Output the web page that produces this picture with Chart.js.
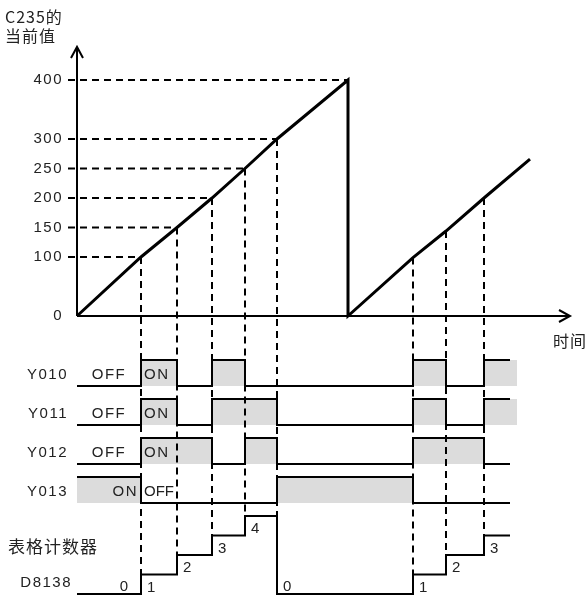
<!DOCTYPE html>
<html>
<head>
<meta charset="utf-8">
<script src="https://cdn.jsdelivr.net/npm/chart.js@4.4.1/dist/chart.umd.min.js"></script>
<style>
html, body { margin: 0; padding: 0; background: #fff; }
#wrap { width: 588px; height: 596px; position: relative; }
</style>
</head>
<body>
<div id="wrap"><canvas id="grafico"></canvas></div>
<script>
// valor atual do C235 nos pontos de comparação
const ticksY = [0, 100, 150, 200, 250, 300, 400];
const valoresCiclo1 = [100, 150, 200, 250, 300];
const temposCiclo1  = [64, 100, 135, 168, 200];
// segundo ciclo: valores (a rampa é desenhada reta)
const valoresCiclo2 = [99, 144, 200];
const temposCiclo2  = [336, 369, 407];
const tempoPico = 271, valorPico = 400;
const tempoFim = 453, valorFim = 266;

// saídas: instante da mudança e novo estado
const nomesSinais = ['Y010', 'Y011', 'Y012', 'Y013'];
const tempos010 = [0, 64, 100, 135, 168, 336, 369, 407, 433];
const estados010 = [0, 1, 0, 1, 0, 1, 0, 1, 1];
const tempos011 = [0, 64, 100, 135, 200, 336, 369, 407, 433];
const estados011 = [0, 1, 0, 1, 0, 1, 0, 1, 1];
const tempos012 = [0, 64, 135, 168, 200, 336, 407, 433];
const estados012 = [0, 1, 0, 1, 0, 1, 0, 0];
const tempos013 = [0, 64, 200, 336, 433];
const estados013 = [1, 0, 1, 0, 0];

// D8138 (contador da tabela)
const temposD8138 = [0, 64, 100, 135, 168, 200, 336, 369, 407, 433];
const contagemD8138 = [0, 1, 2, 3, 4, 0, 1, 2, 3, 3];

// layout (pixels)
const AREA = { left: 60, right: 570, top: 40, bottom: 594 };
const Y0PX = 316, PX_POR_UNID = 0.59;   // eixo do contador
const PX_FAIXA = 26;                    // altura de um pulso
const baseFaixa = [8, 6.5, 5, 3.5];     // linha base de cada saída
const passoD8138 = 0.75;
const fimSombra = 440;

const preto = '#000';
const cinza = '#dcdcdc';

// linha do contador
const pontosContador = [{ x: 0, y: 0 }];
temposCiclo1.forEach((t, i) => pontosContador.push({ x: t, y: valoresCiclo1[i] }));
pontosContador.push({ x: tempoPico, y: valorPico }, { x: tempoPico, y: 0 });
temposCiclo2.forEach((t, i) => pontosContador.push({ x: t, y: valoresCiclo2[i] }));
pontosContador.push({ x: tempoFim, y: valorFim });

const datasets = [];
datasets.push({
    data: pontosContador, yAxisID: 'y', borderColor: preto, borderWidth: 3,
    pointRadius: 0, tension: 0, clip: false, order: 1
});

// guias horizontais tracejadas
const guias = temposCiclo1.map((t, i) => ({ t: t, v: valoresCiclo1[i] }));
guias.push({ t: tempoPico, v: valorPico });
guias.forEach(g => {
    datasets.push({
        data: [{ x: -9, y: g.v }, { x: g.t, y: g.v }], yAxisID: 'y',
        borderColor: preto, borderWidth: 2, borderDash: [7, 5],
        pointRadius: 0, clip: false, order: 1
    });
});

// saídas Y010..Y013
const tabelaSinais = [
    [tempos010, estados010], [tempos011, estados011],
    [tempos012, estados012], [tempos013, estados013]
];
tabelaSinais.forEach(([tempos, estados], i) => {
    const base = baseFaixa[i];
    const pts = tempos.map((t, k) => ({ x: t, y: base + estados[k] }));
    const sombra = pts.map(p => ({ x: p.x, y: p.y }));
    if (estados[estados.length - 1] === 1) sombra[sombra.length - 1].x = fimSombra;
    datasets.push({
        data: sombra, yAxisID: 'faixa', stepped: 'before', borderWidth: 0,
        borderColor: 'rgba(0,0,0,0)', backgroundColor: cinza,
        fill: { value: base }, pointRadius: 0, clip: false, order: 3
    });
    datasets.push({
        data: pts, yAxisID: 'faixa', stepped: 'before', borderColor: preto,
        borderWidth: 2, pointRadius: 0, fill: false, clip: false, order: 2
    });
});

datasets.push({
    data: temposD8138.map((t, k) => ({ x: t, y: contagemD8138[k] * passoD8138 })),
    yAxisID: 'faixa', stepped: 'before', borderColor: preto, borderWidth: 2,
    pointRadius: 0, fill: false, clip: false, order: 2
});

const yMin = -(AREA.bottom - Y0PX) / PX_POR_UNID;
const yMax = (Y0PX - AREA.top) / PX_POR_UNID;
const faixaMax = (AREA.bottom - AREA.top) / PX_FAIXA;

const FONTE = '15px "Liberation Sans", Arial, sans-serif';
const FONTE_CJK = '16px "Noto Sans CJK SC", sans-serif';

function texto(ctx, str, px, py, align, font, espaco) {
    ctx.font = font;
    ctx.letterSpacing = espaco;
    ctx.textAlign = align;
    ctx.textBaseline = 'middle';
    ctx.fillText(str, px, py);
}

const desenho = {
    id: 'desenho',
    afterDatasetsDraw(chart) {
        const { ctx, scales: { x, y, faixa } } = chart;
        ctx.save();
        ctx.strokeStyle = preto;
        ctx.fillStyle = '#222';

        // eixos com setas
        const x0 = x.getPixelForValue(0), y0 = y.getPixelForValue(0);
        const yTopo = y.getPixelForValue(456), xFim = x.getPixelForValue(493);
        ctx.lineWidth = 2;
        ctx.setLineDash([]);
        ctx.beginPath();
        ctx.moveTo(x0, y0); ctx.lineTo(x0, yTopo);
        ctx.moveTo(x0 - 6, yTopo + 11); ctx.lineTo(x0, yTopo); ctx.lineTo(x0 + 6, yTopo + 11);
        ctx.moveTo(x0, y0); ctx.lineTo(xFim, y0);
        ctx.moveTo(xFim - 11, y0 - 6); ctx.lineTo(xFim, y0); ctx.lineTo(xFim - 11, y0 + 6);
        ctx.stroke();

        // guias verticais tracejadas até o degrau do D8138
        const eventos = temposCiclo1.map((t, i) => ({ t: t, v: valoresCiclo1[i] }))
            .concat(temposCiclo2.map((t, i) => ({ t: t, v: valoresCiclo2[i] })));
        ctx.setLineDash([7, 5]);
        eventos.forEach(ev => {
            const k = temposD8138.indexOf(ev.t);
            const nivel = Math.max(contagemD8138[k], contagemD8138[k - 1]);
            const px = x.getPixelForValue(ev.t);
            ctx.beginPath();
            ctx.moveTo(px, y.getPixelForValue(ev.v));
            ctx.lineTo(px, faixa.getPixelForValue(nivel * passoD8138));
            ctx.stroke();
        });
        ctx.setLineDash([]);

        // rótulos do eixo Y
        ticksY.forEach(v => texto(ctx, String(v), x0 - 14, y.getPixelForValue(v), 'right', FONTE, '1.5px'));
        texto(ctx, 'C235的', 5, 17, 'left', FONTE_CJK, '1px');
        texto(ctx, '当前值', 5, 36, 'left', FONTE_CJK, '1px');
        texto(ctx, '时间', 553, 341, 'left', FONTE_CJK, '1px');

        // nomes das saídas e estados
        const xBorda = x.getPixelForValue(temposCiclo1[0]);
        nomesSinais.forEach((nome, i) => {
            const py = faixa.getPixelForValue(baseFaixa[i] + 0.42);
            texto(ctx, nome, 68, py, 'right', FONTE, '1.5px');
            if (i < 3) {
                texto(ctx, 'OFF', x.getPixelForValue(32), py, 'center', FONTE, '1.5px');
                texto(ctx, 'ON', xBorda + 3, py, 'left', FONTE, '1.5px');
            } else {
                texto(ctx, 'ON', xBorda - 3, py, 'right', FONTE, '1.5px');
                texto(ctx, 'OFF', xBorda + 3, py, 'left', FONTE, '0px');
            }
        });

        texto(ctx, '表格计数器', 8, 547, 'left', '17px "Noto Sans CJK SC", sans-serif', '1px');
        texto(ctx, 'D8138', 72, 583, 'right', FONTE, '1.5px');

        // números do D8138
        const yBase = faixa.getPixelForValue(0);
        texto(ctx, '0', x.getPixelForValue(47), yBase - 7, 'center', FONTE, '0px');
        for (let k = 1; k < temposD8138.length - 1; k++) {
            const c = contagemD8138[k];
            const px = x.getPixelForValue(temposD8138[k]) + 6;
            const py = c === 0 ? yBase - 7 : faixa.getPixelForValue(c * passoD8138) + 13;
            texto(ctx, String(c), px, py, 'left', FONTE, '0px');
        }
        ctx.restore();
    }
};

new Chart(document.getElementById('grafico').getContext('2d'), {
    type: 'line',
    data: { datasets: datasets },
    options: {
        responsive: true,
        maintainAspectRatio: false,
        animation: false,
        events: [],
        layout: { padding: { left: AREA.left, right: 588 - AREA.right, top: AREA.top, bottom: 596 - AREA.bottom } },
        scales: {
            x: { type: 'linear', min: -17, max: 493, display: false },
            y: { type: 'linear', min: yMin, max: yMax, display: false },
            faixa: { type: 'linear', position: 'left', min: 0, max: faixaMax, display: false }
        },
        plugins: { legend: { display: false }, tooltip: { enabled: false } }
    },
    plugins: [desenho]
});
</script>
</body>
</html>
